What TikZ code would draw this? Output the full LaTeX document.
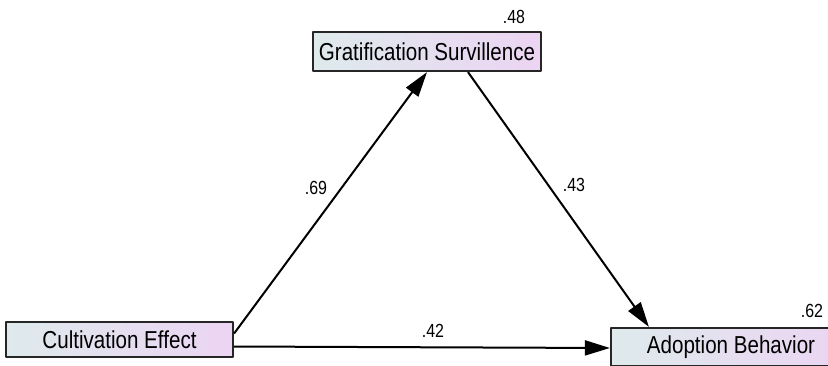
\documentclass[tikz,border=0pt]{standalone}
\usepackage{fontspec}
\setmainfont{Liberation Sans}[FakeStretch=0.84]
\usetikzlibrary{arrows.meta}
\definecolor{kotakkiri}{RGB}{222,234,236}
\definecolor{kotakkanan}{RGB}{236,212,243}
\begin{document}
\begin{tikzpicture}[x=1pt, y=-1pt, line join=round]
    % Gaya kotak variabel dan jalur
    \tikzset{
      variabel/.style={draw=black!85, line width=2.2pt, left color=kotakkiri,
        right color=kotakkanan, inner sep=0pt,
        font=\fontsize{24.5}{27}\selectfont},
      jalur/.style={-{Triangle[length=25pt,width=15pt]}, line width=2pt},
      koef/.style={font=\fontsize{19}{21}\selectfont}
    }
    \useasboundingbox (0,0) rectangle (828,365);

    % Variabel laten
    \node[variabel, minimum width=228pt, minimum height=39pt] (GS) at (427,51.5) {Gratification Survillence};
    \node[variabel, minimum width=227pt, minimum height=35pt] (CE) at (119.5,339.5) {Cultivation Effect};
    \node[variabel, minimum width=240pt, minimum height=38pt] (AB) at (731,347) {Adoption Behavior};

    % R kuadrat
    \node[koef] (rGS) at (514,17) {.48};
    \node[koef] (rAB) at (812,311) {.62};

    % Jalur antar variabel
    \draw[jalur] ([yshift=6pt]CE.east) -- (GS.south);
    \draw[jalur] ([xshift=41pt]GS.south) -- ([xshift=39pt]AB.north west);
    \draw[jalur] ([yshift=-7pt]CE.east) -- ([yshift=-1pt]AB.west);

    % Koefisien jalur
    \node[koef] (k1) at (316,188) {.69};
    \node[koef] (k2) at (574,185) {.43};
    \node[koef] (k3) at (433,331) {.42};
  \end{tikzpicture}
\end{document}
